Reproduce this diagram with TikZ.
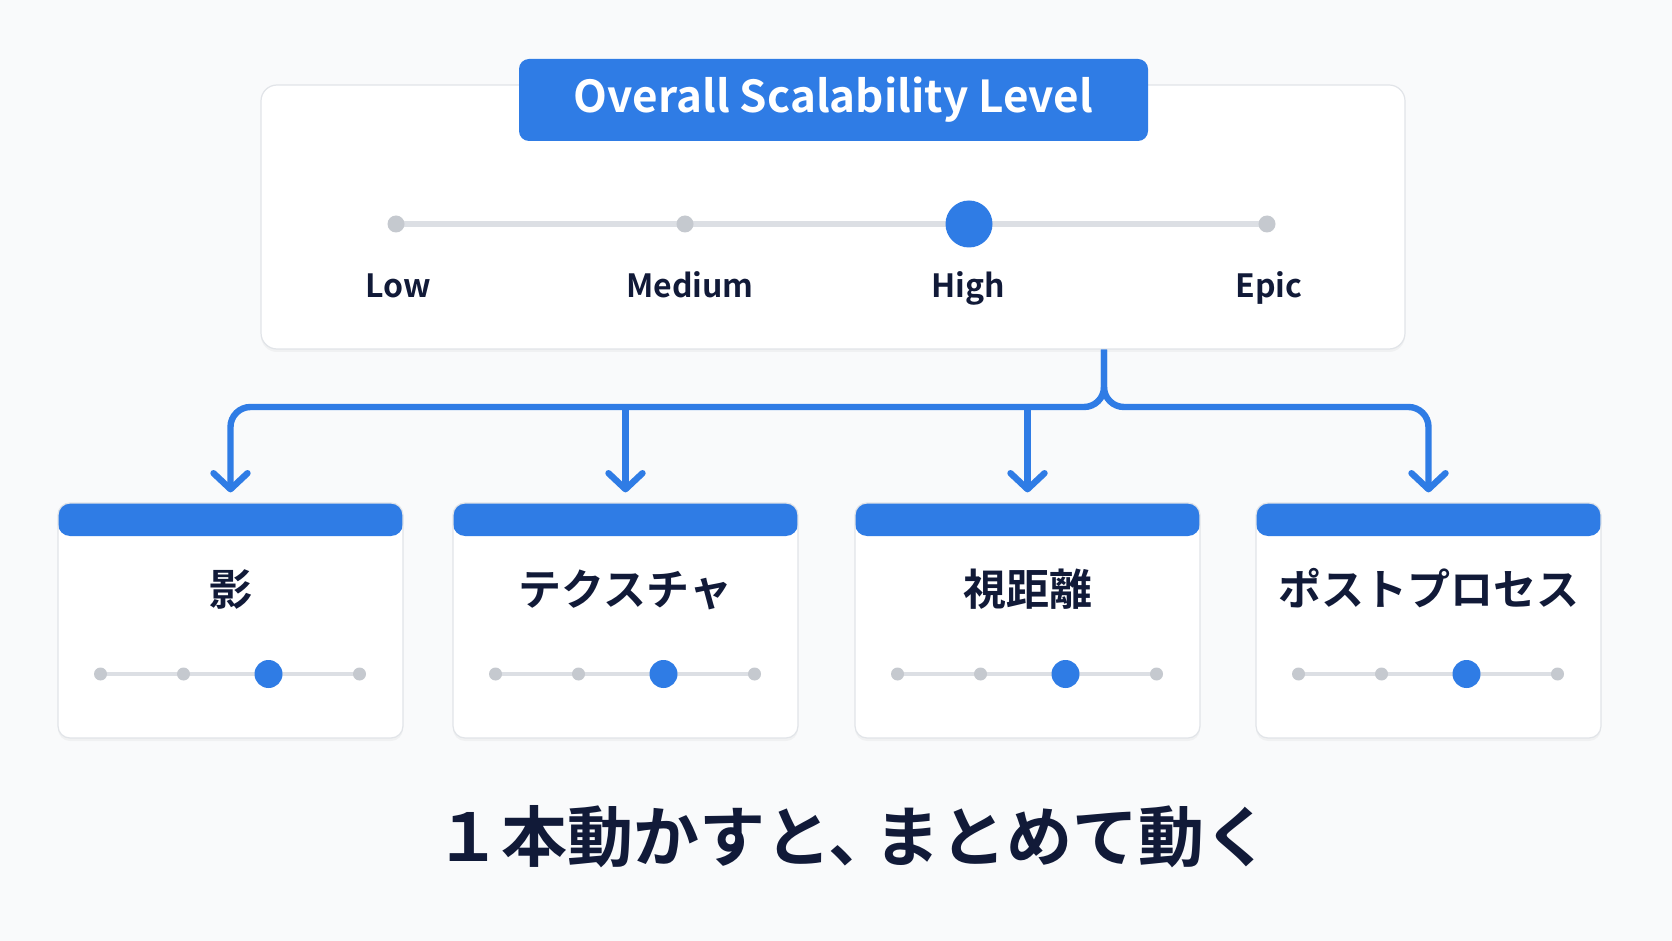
\documentclass[tikz,border=0pt]{standalone}
\usepackage{fontspec}
\setmainfont{Noto Sans CJK JP}[BoldFont={Noto Sans CJK JP Bold}]
\usetikzlibrary{arrows.meta,shadows}

\definecolor{uiblue}{HTML}{2F7CE5}
\definecolor{uiink}{HTML}{111A38}
\definecolor{uitrack}{HTML}{DCDFE4}
\definecolor{uiknob}{HTML}{C5C9CF}
\definecolor{uiedge}{HTML}{E1E4E8}
\definecolor{uipage}{HTML}{F9FAFB}

\tikzset{
  panel/.style     = {shape = rectangle, rounded corners = 8pt, draw = uiedge,
                      line width = 0.6pt, fill = white,
                      drop shadow = {opacity = 0.07, shadow xshift = 0pt, shadow yshift = -1.5pt}},
  card/.style      = {panel, rounded corners = 6pt, minimum width = 172.5pt, minimum height = 117.5pt,
                      path picture = {\fill[uiblue] (path picture bounding box.north west)
                        rectangle ([yshift = -16.5pt] path picture bounding box.north east);}},
  titlebar/.style  = {shape = rectangle, rounded corners = 5pt, fill = uiblue, text = white,
                      minimum width = 314.5pt, minimum height = 41pt,
                      font = \bfseries\fontsize{22}{26}\selectfont},
  level/.style     = {text = uiink, text height = 0.75em, text depth = 0.2em,
                      font = \bfseries\fontsize{16}{20}\selectfont},
  cardtitle/.style = {text = uiink, text height = 0.85em, text depth = 0.1em,
                      font = \bfseries\fontsize{21.5}{24}\selectfont},
  knob/.style      = {shape = circle, fill = uiknob, inner sep = 0pt, minimum size = 8.5pt},
  thumb/.style     = {shape = circle, fill = uiblue, inner sep = 0pt, minimum size = 23.5pt},
  track/.style     = {draw = uitrack, line cap = round},
  link/.style      = {draw = uiblue, line width = 3.2pt, rounded corners = 10pt,
                      -{Straight Barb[length = 8pt, width = 17pt, round]}, shorten > = 5pt}
}

\begin{document}
\begin{tikzpicture}[x = 0.5pt, y = -0.5pt]
        \fill[uipage] (0, 0) rectangle (1672, 941);
        \useasboundingbox (0, 0) rectangle (1672, 941);

        % ------------------------------------------------------------------------
        % Overall slider
        \node[panel, minimum width = 572pt, minimum height = 132pt] at (833, 217) (overall) {};
        \node[titlebar] at (833.5, 100) (title) {Overall Scalability Level};

        \draw[track, line width = 3.2pt] (396, 224) -- (1267, 224);

        \node[knob]  at ( 396, 224) (low)    {};
        \node[knob]  at ( 685, 224) (medium) {};
        \node[thumb] at ( 969, 224) (high)   {};
        \node[knob]  at (1267, 224) (epic)   {};

        \node[level] at ( 398, 292) (lowlabel)    {Low};
        \node[level] at ( 690, 292) (mediumlabel) {Medium};
        \node[level] at ( 968, 292) (highlabel)   {High};
        \node[level] at (1269, 292) (epiclabel)   {Epic};

        % ------------------------------------------------------------------------
        % Settings
        \node[card] at ( 230.5, 620.5) (shadow)   {};
        \node[card] at ( 625.5, 620.5) (texture)  {};
        \node[card] at (1027.5, 620.5) (distance) {};
        \node[card] at (1428.5, 620.5) (post)     {};

        \node[cardtitle] at ([yshift = 11.5pt] shadow.center)   (shadowlabel)   {影};
        \node[cardtitle] at ([yshift = 11.5pt] texture.center)  (texturelabel)  {テクスチャ};
        \node[cardtitle] at ([yshift = 11.5pt] distance.center) (distancelabel) {視距離};
        \node[cardtitle] at ([yshift = 11.5pt] post.center)     (postlabel)     {ポストプロセス};

        \foreach \c in {shadow, texture, distance, post} {
          \draw[track, line width = 2pt]
            ([shift = {(-65pt, -26.75pt)}] \c.center) -- ([shift = {(64.5pt, -26.75pt)}] \c.center);
          \foreach \dx in {-65pt, -23.5pt, 64.5pt}
            \fill[uiknob] ([shift = {(\dx, -26.75pt)}] \c.center) circle (3.25pt);
          \fill[uiblue] ([shift = {(19pt, -26.75pt)}] \c.center) circle (7pt);
        }

        % ------------------------------------------------------------------------
        % Links
        \coordinate (split) at (1104, 407);

        \draw[link] (overall.south -| split) -- (split) -| (shadow.north);
        \draw[link] (overall.south -| split) -- (split) -| (post.north);
        \draw[link] (split -| texture.north)  -- (texture.north);
        \draw[link] (split -| distance.north) -- (distance.north);

        \node[text = uiink, font = \bfseries\fontsize{33}{38}\selectfont] at (853, 837) (motto)
          {１本動かすと、\kern-0.3em まとめて動く};
      \end{tikzpicture}
\end{document}
